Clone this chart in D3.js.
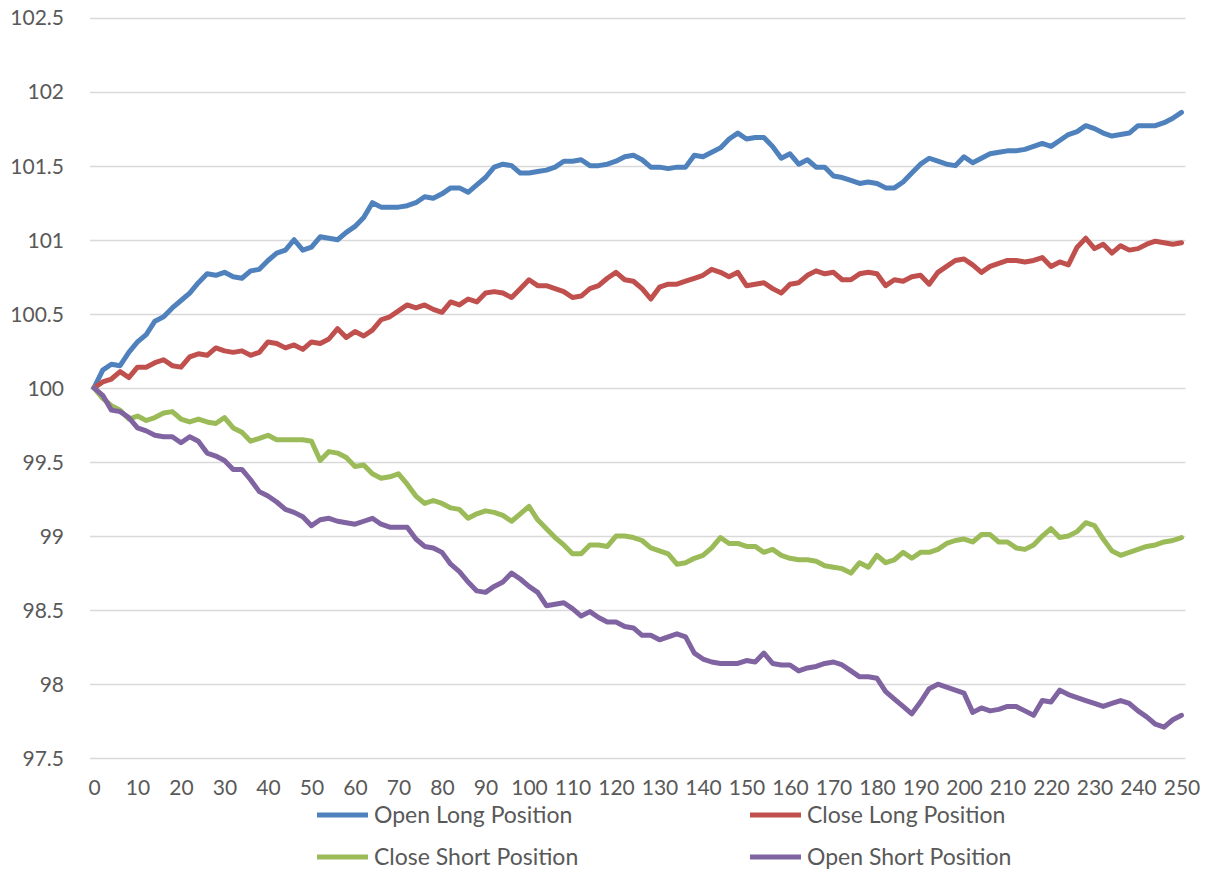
<!DOCTYPE html>
<html>
<head>
<meta charset="utf-8">
<script src="https://cdn.jsdelivr.net/npm/d3@7"></script>
<style>
  html, body { margin: 0; padding: 0; background: #ffffff; }
  svg { display: block; }
  text { font-family: Lato, "Open Sans", sans-serif; fill: #595959; }
</style>
</head>
<body>
<svg id="chart" width="1211" height="870"></svg>
<script>
// Trading day index (every second day sampled)
const days = [
  0, 2, 4, 6, 8, 10, 12, 14, 16, 18, 20, 22, 24, 26, 28, 30, 32, 34, 36, 38,
  40, 42, 44, 46, 48, 50, 52, 54, 56, 58, 60, 62, 64, 66, 68, 70, 72, 74, 76, 78,
  80, 82, 84, 86, 88, 90, 92, 94, 96, 98, 100, 102, 104, 106, 108, 110, 112, 114, 116, 118,
  120, 122, 124, 126, 128, 130, 132, 134, 136, 138, 140, 142, 144, 146, 148, 150, 152, 154, 156, 158,
  160, 162, 164, 166, 168, 170, 172, 174, 176, 178, 180, 182, 184, 186, 188, 190, 192, 194, 196, 198,
  200, 202, 204, 206, 208, 210, 212, 214, 216, 218, 220, 222, 224, 226, 228, 230, 232, 234, 236, 238,
  240, 242, 244, 246, 248, 250
];

const openLong = [
  100.00, 100.12, 100.16, 100.15, 100.24, 100.31, 100.36, 100.45, 100.48, 100.54,
  100.59, 100.64, 100.71, 100.77, 100.76, 100.78, 100.75, 100.74, 100.79, 100.80,
  100.86, 100.91, 100.93, 101.00, 100.93, 100.95, 101.02, 101.01, 101.00, 101.05,
  101.09, 101.15, 101.25, 101.22, 101.22, 101.22, 101.23, 101.25, 101.29, 101.28,
  101.31, 101.35, 101.35, 101.32, 101.37, 101.42, 101.49, 101.51, 101.50, 101.45,
  101.45, 101.46, 101.47, 101.49, 101.53, 101.53, 101.54, 101.50, 101.50, 101.51,
  101.53, 101.56, 101.57, 101.54, 101.49, 101.49, 101.48, 101.49, 101.49, 101.57,
  101.56, 101.59, 101.62, 101.68, 101.72, 101.68, 101.69, 101.69, 101.63, 101.55,
  101.58, 101.51, 101.54, 101.49, 101.49, 101.43, 101.42, 101.40, 101.38, 101.39,
  101.38, 101.35, 101.35, 101.39, 101.45, 101.51, 101.55, 101.53, 101.51, 101.50,
  101.56, 101.52, 101.55, 101.58, 101.59, 101.60, 101.60, 101.61, 101.63, 101.65,
  101.63, 101.67, 101.71, 101.73, 101.77, 101.75, 101.72, 101.70, 101.71, 101.72,
  101.77, 101.77, 101.77, 101.79, 101.82, 101.86
];

const closeLong = [
  100.00, 100.04, 100.06, 100.11, 100.07, 100.14, 100.14, 100.17, 100.19, 100.15,
  100.14, 100.21, 100.23, 100.22, 100.27, 100.25, 100.24, 100.25, 100.22, 100.24,
  100.31, 100.30, 100.27, 100.29, 100.26, 100.31, 100.30, 100.33, 100.40, 100.34,
  100.38, 100.35, 100.39, 100.46, 100.48, 100.52, 100.56, 100.54, 100.56, 100.53,
  100.51, 100.58, 100.56, 100.60, 100.58, 100.64, 100.65, 100.64, 100.61, 100.67,
  100.73, 100.69, 100.69, 100.67, 100.65, 100.61, 100.62, 100.67, 100.69, 100.74,
  100.78, 100.73, 100.72, 100.67, 100.60, 100.68, 100.70, 100.70, 100.72, 100.74,
  100.76, 100.80, 100.78, 100.75, 100.78, 100.69, 100.70, 100.71, 100.67, 100.64,
  100.70, 100.71, 100.76, 100.79, 100.77, 100.78, 100.73, 100.73, 100.77, 100.78,
  100.77, 100.69, 100.73, 100.72, 100.75, 100.76, 100.70, 100.78, 100.82, 100.86,
  100.87, 100.83, 100.78, 100.82, 100.84, 100.86, 100.86, 100.85, 100.86, 100.88,
  100.82, 100.85, 100.83, 100.95, 101.01, 100.94, 100.97, 100.91, 100.96, 100.93,
  100.94, 100.97, 100.99, 100.98, 100.97, 100.98
];

const closeShort = [
  100.00, 99.93, 99.88, 99.85, 99.79, 99.81, 99.78, 99.80, 99.83, 99.84,
  99.79, 99.77, 99.79, 99.77, 99.76, 99.80, 99.73, 99.70, 99.64, 99.66,
  99.68, 99.65, 99.65, 99.65, 99.65, 99.64, 99.51, 99.57, 99.56, 99.53,
  99.47, 99.48, 99.42, 99.39, 99.40, 99.42, 99.35, 99.27, 99.22, 99.24,
  99.22, 99.19, 99.18, 99.12, 99.15, 99.17, 99.16, 99.14, 99.10, 99.15,
  99.20, 99.11, 99.05, 98.99, 98.94, 98.88, 98.88, 98.94, 98.94, 98.93,
  99.00, 99.00, 98.99, 98.97, 98.92, 98.90, 98.88, 98.81, 98.82, 98.85,
  98.87, 98.92, 98.99, 98.95, 98.95, 98.93, 98.93, 98.89, 98.91, 98.87,
  98.85, 98.84, 98.84, 98.83, 98.80, 98.79, 98.78, 98.75, 98.82, 98.79,
  98.87, 98.82, 98.84, 98.89, 98.85, 98.89, 98.89, 98.91, 98.95, 98.97,
  98.98, 98.96, 99.01, 99.01, 98.96, 98.96, 98.92, 98.91, 98.94, 99.00,
  99.05, 98.99, 99.00, 99.03, 99.09, 99.07, 98.98, 98.90, 98.87, 98.89,
  98.91, 98.93, 98.94, 98.96, 98.97, 98.99
];

const openShort = [
  100.00, 99.95, 99.85, 99.84, 99.80, 99.73, 99.71, 99.68, 99.67, 99.67,
  99.63, 99.67, 99.64, 99.56, 99.54, 99.51, 99.45, 99.45, 99.38, 99.30,
  99.27, 99.23, 99.18, 99.16, 99.13, 99.07, 99.11, 99.12, 99.10, 99.09,
  99.08, 99.10, 99.12, 99.08, 99.06, 99.06, 99.06, 98.98, 98.93, 98.92,
  98.89, 98.81, 98.76, 98.69, 98.63, 98.62, 98.66, 98.69, 98.75, 98.71,
  98.66, 98.62, 98.53, 98.54, 98.55, 98.51, 98.46, 98.49, 98.45, 98.42,
  98.42, 98.39, 98.38, 98.33, 98.33, 98.30, 98.32, 98.34, 98.32, 98.21,
  98.17, 98.15, 98.14, 98.14, 98.14, 98.16, 98.15, 98.21, 98.14, 98.13,
  98.13, 98.09, 98.11, 98.12, 98.14, 98.15, 98.13, 98.09, 98.05, 98.05,
  98.04, 97.95, 97.90, 97.85, 97.80, 97.88, 97.97, 98.00, 97.98, 97.96,
  97.94, 97.81, 97.84, 97.82, 97.83, 97.85, 97.85, 97.82, 97.79, 97.89,
  97.88, 97.96, 97.93, 97.91, 97.89, 97.87, 97.85, 97.87, 97.89, 97.87,
  97.82, 97.78, 97.73, 97.71, 97.76, 97.79
];

const seriesNames = ["Open Long Position", "Close Long Position", "Close Short Position", "Open Short Position"];
const seriesColors = ["#4f81bd", "#c0504d", "#9bbb59", "#8064a2"];

const xTicks = [0, 10, 20, 30, 40, 50, 60, 70, 80, 90, 100, 110, 120, 130, 140, 150, 160, 170, 180, 190, 200, 210, 220, 230, 240, 250];
const yTicks = [97.5, 98, 98.5, 99, 99.5, 100, 100.5, 101, 101.5, 102, 102.5];

const seriesValues = [openLong, closeLong, closeShort, openShort];
const series = seriesNames.map((name, i) => ({
  name,
  color: seriesColors[i],
  points: days.map((d, j) => ({ day: d, value: seriesValues[i][j] }))
}));

const svg = d3.select("#chart");

const x = d3.scaleLinear().domain([0, 250]).range([94, 1181.5]);
const y = d3.scaleLinear().domain([97.5, 102.5]).range([758.3, 17.5]);

const tickFont = "21px";
const legendFont = "23px";

// Horizontal gridlines
const grid = svg.append("g").attr("class", "grid");
grid.selectAll("line")
  .data(yTicks)
  .enter().append("line")
  .attr("x1", x(0) - 4)
  .attr("x2", x(250) + 4)
  .attr("y1", d => Math.round(y(d)) + 0.5)
  .attr("y2", d => Math.round(y(d)) + 0.5)
  .attr("stroke", "#d9d9d9")
  .attr("stroke-width", 1.5);

// Y axis labels
const yAxis = d3.axisLeft(y).tickValues(yTicks).tickSize(0).tickPadding(0)
  .tickFormat(d => d3.format("")(d));
svg.append("g")
  .attr("transform", `translate(${x(0) - 30},0)`)
  .call(yAxis)
  .call(g => g.select(".domain").remove())
  .call(g => g.selectAll("text")
    .attr("dy", "0.35em")
    .style("font-size", tickFont)
    .style("fill", "#595959")
    .style("font-family", "Lato, 'Open Sans', sans-serif"));

// X axis labels
const xAxis = d3.axisBottom(x).tickValues(xTicks).tickSize(0).tickPadding(0);
svg.append("g")
  .attr("transform", `translate(0,${y(97.5) + 29})`)
  .call(xAxis)
  .call(g => g.select(".domain").remove())
  .call(g => g.selectAll("text")
    .attr("dy", "0.35em")
    .style("font-size", tickFont)
    .style("fill", "#595959")
    .style("font-family", "Lato, 'Open Sans', sans-serif"));

// Series lines
const line = d3.line()
  .x(d => x(d.day))
  .y(d => y(d.value));

svg.append("g").attr("class", "series")
  .selectAll("path")
  .data(series)
  .enter().append("path")
  .attr("d", d => line(d.points))
  .attr("fill", "none")
  .attr("stroke", d => d.color)
  .attr("stroke-width", 5)
  .attr("stroke-linejoin", "round")
  .attr("stroke-linecap", "round");

// Legend: two rows, two columns
const legendPos = [
  { lx: 317, ly: 815 },
  { lx: 750, ly: 815 },
  { lx: 317, ly: 857 },
  { lx: 750, ly: 857 }
];
const legend = svg.append("g").attr("class", "legend")
  .selectAll("g")
  .data(series)
  .enter().append("g")
  .attr("transform", (d, i) => `translate(${legendPos[i].lx},${legendPos[i].ly})`);

legend.append("line")
  .attr("x1", 0).attr("x2", 51)
  .attr("y1", 0).attr("y2", 0)
  .attr("stroke", d => d.color)
  .attr("stroke-width", 5);

legend.append("text")
  .attr("x", 57)
  .attr("y", 0)
  .attr("dy", "0.35em")
  .style("font-size", legendFont)
  .text(d => d.name);
</script>
</body>
</html>
